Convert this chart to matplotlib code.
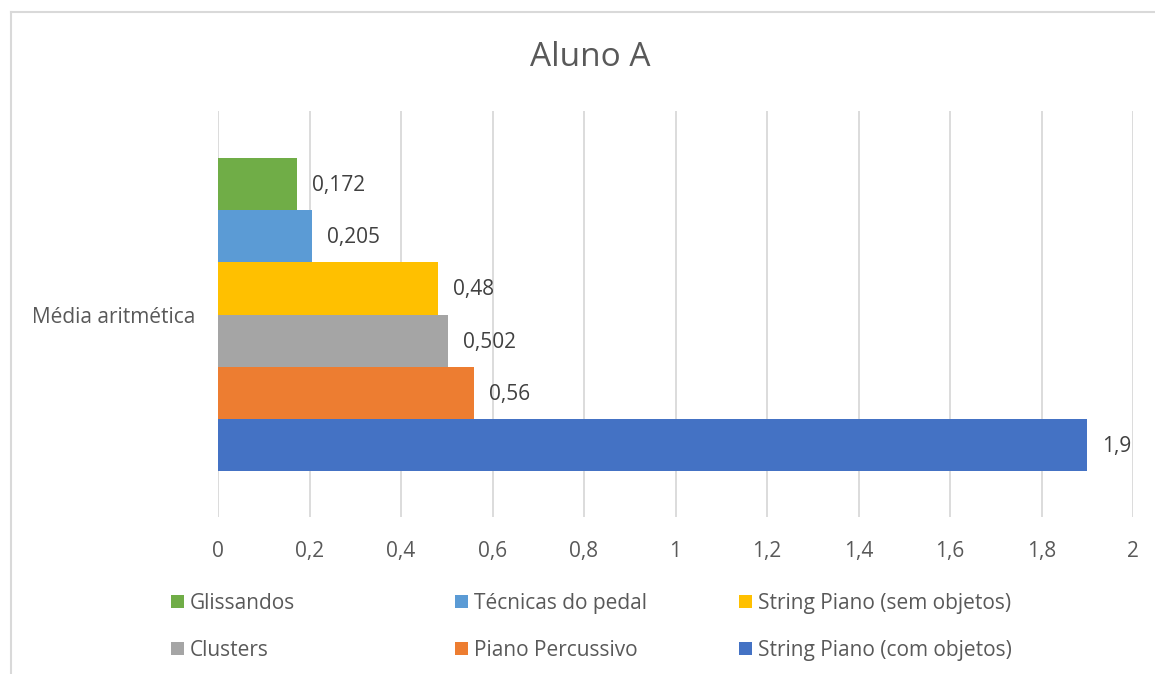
"""
Horizontal bar chart - Aluno A, arithmetic mean per technique
"""

import matplotlib
matplotlib.use("Agg")
import matplotlib.pyplot as plt
from matplotlib.patches import Patch
from matplotlib.lines import Line2D

plt.rcParams["font.family"] = ["Open Sans", "DejaVu Sans"]

# Data
TITLE = "Aluno A"
CATEGORY = "Média aritmética"
SERIES = ["Glissandos", "Técnicas do pedal", "String Piano (sem objetos)",
          "Clusters", "Piano Percussivo", "String Piano (com objetos)"]
VALUES = [0.172, 0.205, 0.48, 0.502, 0.56, 1.9]
VALUE_LABELS = ["0,172", "0,205", "0,48", "0,502", "0,56", "1,9"]
XTICKS = [0, 0.2, 0.4, 0.6, 0.8, 1.0, 1.2, 1.4, 1.6, 1.8, 2.0]
XTICK_LABELS = ["0", "0,2", "0,4", "0,6", "0,8", "1", "1,2", "1,4", "1,6", "1,8", "2"]

COLORS = ["#70AD47", "#5B9BD5", "#FFC000", "#A5A5A5", "#ED7D31", "#4472C4"]
TEXT = "#595959"
GRID = "#D9D9D9"
FS = 15

W, H = 1155, 674
fig = plt.figure(figsize=(W / 100, H / 100), dpi=100)
ax = fig.add_axes([218 / W, 1 - 517 / H, (1133 - 218) / W, (517 - 111) / H])

# first series sits at the top, last at the bottom
n = len(SERIES)
ypos = [n - 1 - i for i in range(n)]
ax.barh(ypos, VALUES, height=1.0, color=COLORS, zorder=3)

for y, v, lab in zip(ypos, VALUES, VALUE_LABELS):
    ax.annotate(lab, (v, y), xytext=(11, -1), textcoords="offset points",
                ha="left", va="center", fontsize=FS, color="#404040")

ax.set_xlim(0, 2)
ax.set_ylim(-0.5 - 0.88, n - 0.5 + 0.9)
ax.set_xticks(XTICKS)
ax.set_xticklabels(XTICK_LABELS, fontsize=FS, color=TEXT)
ax.tick_params(axis="x", length=0, pad=17)
ax.set_yticks([(n - 1) / 2])
ax.set_yticklabels([CATEGORY], fontsize=FS, color=TEXT)
ax.tick_params(axis="y", length=0, pad=16)
ax.grid(axis="x", color=GRID, linewidth=1.3, zorder=0)
for s in ax.spines.values():
    s.set_visible(False)

fig.text(590 / W, 1 - 58 / H, TITLE, ha="center", va="center",
         fontsize=24, color=TEXT)

# legend: three columns, two rows each
cols = [(0, 3), (1, 4), (2, 5)]
xs = [171, 455, 739]
for (a, b), x in zip(cols, xs):
    handles = [Patch(facecolor=COLORS[a]), Patch(facecolor=COLORS[b])]
    leg = fig.legend(handles, [SERIES[a], SERIES[b]], loc="upper left",
                     bbox_to_anchor=(x / W, 1 - 593 / H), frameon=False,
                     fontsize=FS, handlelength=0.62, handleheight=0.62,
                     handletextpad=0.3, labelspacing=1.25, borderpad=0,
                     borderaxespad=0)
    for t in leg.get_texts():
        t.set_color(TEXT)

# chart area border
fig.add_artist(Line2D([11 / W, 1], [1 - 12 / H, 1 - 12 / H], color=GRID, linewidth=1.5))
fig.add_artist(Line2D([11 / W, 11 / W], [0, 1 - 12 / H], color=GRID, linewidth=1.5))

fig.savefig("out.png", dpi=100, facecolor="white")
